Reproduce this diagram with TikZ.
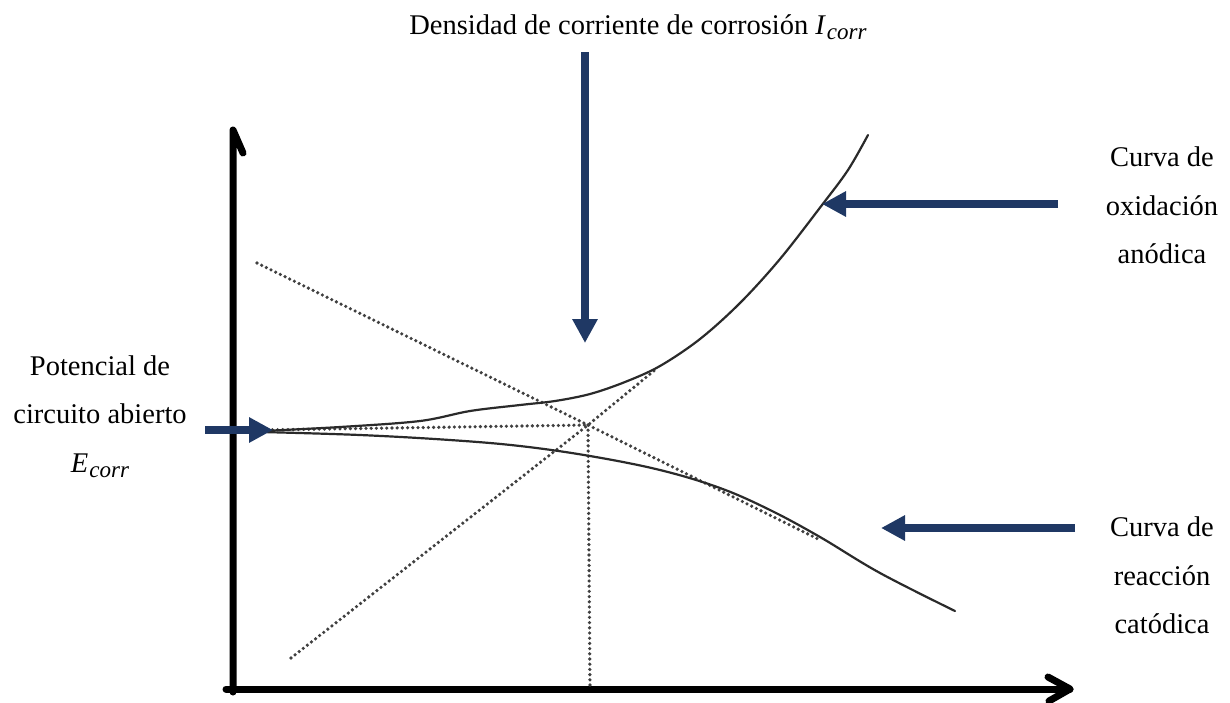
\documentclass[tikz,border=0pt]{standalone}
\usepackage{fontspec}
\setmainfont{Liberation Serif}
\usetikzlibrary{arrows.meta}
\definecolor{navy}{HTML}{1F3864}
\definecolor{curvegray}{HTML}{2A2A2A}
\newcommand{\subvar}[2]{\textit{#1}\kern1pt\raisebox{-5pt}{\fontsize{23}{23}\selectfont\textit{#2}}}
\tikzset{
  axisline/.style={line width=7pt, black, line cap=round, line join=round},
  curveline/.style={line width=2.2pt, curvegray, line cap=round},
  dotline/.style={line width=3.6pt, black!75, line cap=round, dash pattern=on 0pt off 5.2pt},
  bluearrow/.style={line width=7.5pt, navy, -{Triangle[length=24pt,width=24pt]}},
  lbl/.style={font=\fontsize{28.5}{48}\selectfont, align=center, inner sep=0pt, anchor=base}
}
\begin{document}
\begin{tikzpicture}[x=1pt,y=-1pt]
\useasboundingbox (0,0) rectangle (1230,702);
% axes
\coordinate (O) at (233,689);
\coordinate (Ytop) at (233,130);
\coordinate (Xend) at (1070,689);
\draw[axisline] (233,692) -- (Ytop) -- (243,153);
\draw[axisline] (226,689) -- (Xend);
\draw[axisline] (1048,677) -- (Xend) -- (1049,701);
% dotted constructions
\coordinate (E) at (262,430);
\coordinate (P) at (588,425);
\coordinate (Pb) at (590,690);
\draw[dotline] (E) -- (P);
\draw[dotline] (P) -- (Pb);
\draw[dotline] (257,263) -- (P) -- (820,540);
\draw[dotline] (291,658) -- (P) -- (655,370);
% anodic curve
\draw[curveline] plot[smooth, tension=0.55] coordinates {(262,431) (340,427) (420,421) (470,411) (520,405) (555,401) (590,394) (625,382) (660,366) (700,339) (740,303) (780,259) (822,205) (848,170) (868,135)};
% cathodic curve
\draw[curveline] plot[smooth, tension=0.6] coordinates {(262,432) (360,435) (450,440) (520,446) (590,456) (660,470) (720,488) (770,510) (820,537) (880,573) (955,611)};
% labels
\node[lbl] (top) at (638,34) {Densidad de corriente de corrosión \subvar{I}{corr}};
\node[lbl] (an1) at (1162,166) {Curva de};
\node[lbl] (an2) at (1162,215) {oxidación};
\node[lbl] (an3) at (1162,263) {anódica};
\node[lbl] (ca1) at (1162,536) {Curva de};
\node[lbl] (ca2) at (1162,585) {reacción};
\node[lbl] (ca3) at (1162,633) {catódica};
\node[lbl] (po1) at (100,375) {Potencial de};
\node[lbl] (po2) at (100,423) {circuito abierto};
\node[lbl] (po3) at (100,472) {\subvar{E}{corr}};
% blue arrows
\coordinate (t0) at (585,52);
\coordinate (t1) at (585,343);
\coordinate (a0) at (1058,204);
\coordinate (a1) at (822,204);
\coordinate (c0) at (1075,528);
\coordinate (c1) at (881,528);
\coordinate (e0) at (205,430);
\coordinate (e1) at (273,430);
\draw[bluearrow] (t0) -- (t1);
\draw[bluearrow] (a0) -- (a1);
\draw[bluearrow] (c0) -- (c1);
\draw[bluearrow] (e0) -- (e1);
\end{tikzpicture}
\end{document}
